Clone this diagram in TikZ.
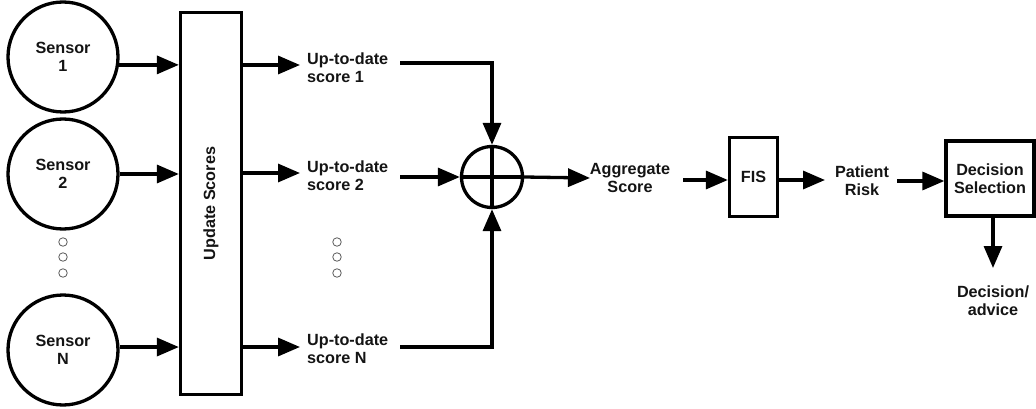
\documentclass[tikz,border=0pt]{standalone}
\usepackage{fontspec}
\setmainfont{Liberation Sans}
\usetikzlibrary{arrows.meta}
\begin{document}
\begin{tikzpicture}[x=1pt,y=-1pt,
  lbl/.style={font=\bfseries\fontsize{16.2}{18}\selectfont, text=black!92, align=center, inner sep=0pt},
  sensor/.style={circle, draw, line width=3.3pt, minimum size=110pt, inner sep=0pt, lbl},
  block/.style={draw, line width=3.3pt, inner sep=0pt, lbl},
  arr/.style={line width=3.3pt, -{Triangle[length=22pt,width=18pt]}},
  dotmark/.style={circle, draw=black!65, line width=0.8pt, minimum size=8.5pt, inner sep=0pt}]
\path[use as bounding box] (0,0) rectangle (1036,409);

% sensors
\node[sensor] (s1) at (63,57)  {Sensor\\1};
\node[sensor] (s2) at (63,174) {Sensor\\2};
\node[sensor] (sN) at (63,350) {Sensor\\N};

% update block
\node[block, minimum width=61pt, minimum height=382pt] (ups) at (211,203.5) {};
\node[lbl, rotate=90] (upsl) at (ups.center) {Update Scores};

% score labels
\node[lbl, align=left, anchor=west] (sc1) at (307,68)  {Up-to-date\\score 1};
\node[lbl, align=left, anchor=west] (sc2) at (307,176) {Up-to-date\\score 2};
\node[lbl, align=left, anchor=west] (scN) at (307,349) {Up-to-date\\score N};

% ellipsis marks
\foreach \y [count=\i] in {242,257,273} {
  \node[dotmark] (dl\i) at (63,\y) {};
  \node[dotmark] (dr\i) at (337,\y) {};
}

% sensors into the update block
\draw[arr] (s1.-8) -- (s1.-8 -| ups.west);
\draw[arr] (s2.east) -- (s2.east -| ups.west);
\draw[arr] (sN.3) -- (sN.3 -| ups.west);

% update block to score labels
\coordinate (t1) at (300,65);
\coordinate (t2) at (300,173);
\coordinate (tN) at (300,347);
\draw[arr] (t1 -| ups.east) -- (t1);
\draw[arr] (t2 -| ups.east) -- (t2);
\draw[arr] (tN -| ups.east) -- (tN);

% summing junction
\node[circle, draw, line width=3.3pt, minimum size=61pt, inner sep=0pt] (sum) at (492,177) {};
\draw[line width=3.3pt] (sum.north) -- (sum.south) (sum.west) -- (sum.east);

\coordinate (o1) at (400,63);
\coordinate (o2) at (400,177);
\coordinate (oN) at (400,347);
\draw[arr] (o1) -| (sum.north);
\draw[arr] (o2) -- (sum.west);
\draw[arr] (oN) -| (sum.south);

% aggregate score and the rest of the chain
\node[lbl] (agg) at (630,178) {Aggregate\\Score};
\coordinate (a1) at (590,178);
\draw[arr] (sum.east) -- (a1);

\node[block, minimum width=48pt, minimum height=79pt] (fis) at (753.5,177) {FIS};
\coordinate (f0) at (683,180);
\draw[arr] (f0) -- (f0 -| fis.west);

\node[lbl] (pr) at (862,181) {Patient\\Risk};
\coordinate (f1) at (825,180);
\draw[arr] (f1 -| fis.east) -- (f1);

\node[block, minimum width=88pt, minimum height=75pt] (dec) at (990,178.5) {Decision\\Selection};
\coordinate (p1) at (897,181);
\draw[arr] (p1) -- (p1 -| dec.west);

\coordinate (d1) at (993,268);
\draw[arr] (d1 |- dec.south) -- (d1);
\node[lbl] (adv) at (993,301) {Decision/\\advice};
\end{tikzpicture}
\end{document}
